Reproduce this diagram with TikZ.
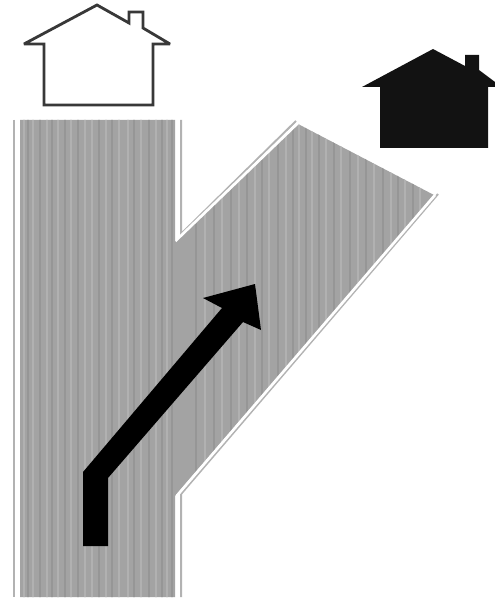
\documentclass[tikz,border=0pt]{standalone}
\definecolor{roadgray}{RGB}{163,163,163}
\definecolor{roadlight}{RGB}{177,177,177}
\definecolor{roaddark}{RGB}{150,150,150}
\definecolor{housedark}{RGB}{18,18,18}
\definecolor{roadrim}{RGB}{178,178,178}
\tikzset{
  px/.style={x=0.75pt,y=-0.75pt},
  edgeline/.style={draw=white,line width=2pt,line join=miter},
  rimline/.style={draw=roadrim,line width=1.5pt,line join=miter},
  houseline/.style={draw=black!78,line width=2.1pt,line join=miter,miter limit=3,fill=white},
  housesolid/.style={fill=housedark,draw=none},
  arrowshape/.style={fill=black,draw=none}
}
\begin{document}
\begin{tikzpicture}[px]
\useasboundingbox (0,0) rectangle (495,599);
\fill[white] (0,0) rectangle (495,599);
\begin{scope}
\clip (20,120) -- (175,120) -- (175,242) -- (298,124) -- (434,195) -- (175,496) -- (175,597) -- (20,597) -- cycle;
\fill[roadgray] (0,100) rectangle (495,599);
\foreach \x in {24,33,47,58,71,85,92,106,119,128,141,156,167,205,222,239,255,269,286,299,312,326,341,358,374,391,405,420}
  \draw[roadlight,line width=0.9pt] (\x,100) -- (\x,599);
\foreach \x in {28,40,52,65,78,99,112,134,149,162,172,196,214,231,247,262,278,293,306,319,334,350,366,383,398,413}
  \draw[roaddark,line width=0.8pt] (\x,100) -- (\x,599);
\end{scope}
\draw[rimline] (14,120) -- (14,597);
\draw[rimline] (181,120) -- (181,234) -- (296,121);
\draw[rimline] (438,194) -- (181,494) -- (181,597);
\draw[edgeline] (17.5,120) -- (17.5,597);
\draw[edgeline] (177.5,120) -- (177.5,239) -- (298,123);
\draw[edgeline] (435,195) -- (177.5,495) -- (177.5,597);
\path[arrowshape] (83,546) -- (108,546) -- (108,478) -- (243,322) -- (261,330) -- (255,284) -- (203,298) -- (222,308) -- (83,472) -- cycle;
\path[houseline] (24,44) -- (97,5) -- (129,23) -- (129,12) -- (143,12) -- (143,28) -- (170,44) -- (153,44) -- (153,105) -- (44,105) -- (44,44) -- cycle;
\path[housesolid] (362,87) -- (433,49) -- (465,66) -- (465,55) -- (479,55) -- (479,70) -- (495,82) -- (495,87) -- (488,87) -- (488,148) -- (380,148) -- (380,87) -- cycle;
\end{tikzpicture}
\end{document}
